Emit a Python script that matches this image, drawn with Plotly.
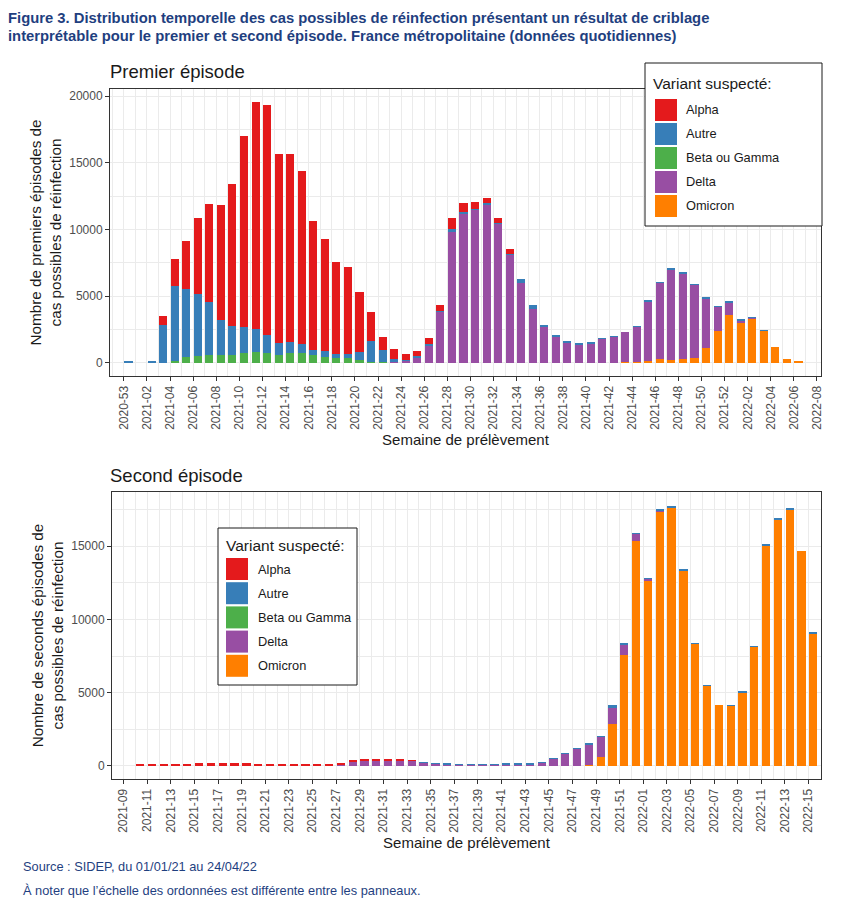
import plotly.graph_objects as go

# ---------------- DATA ----------------
top_weeks = [
    "2020-53",
    "2021-01", "2021-02", "2021-03", "2021-04", "2021-05", "2021-06", "2021-07", "2021-08", "2021-09", "2021-10",
    "2021-11", "2021-12", "2021-13", "2021-14", "2021-15", "2021-16", "2021-17", "2021-18", "2021-19", "2021-20",
    "2021-21", "2021-22", "2021-23", "2021-24", "2021-25", "2021-26", "2021-27", "2021-28", "2021-29", "2021-30",
    "2021-31", "2021-32", "2021-33", "2021-34", "2021-35", "2021-36", "2021-37", "2021-38", "2021-39", "2021-40",
    "2021-41", "2021-42", "2021-43", "2021-44", "2021-45", "2021-46", "2021-47", "2021-48", "2021-49", "2021-50",
    "2021-51", "2021-52",
    "2022-01", "2022-02", "2022-03", "2022-04", "2022-05", "2022-06", "2022-07", "2022-08",
]

top_alpha = [0, 0, 0, 725, 2050, 3625, 5675, 7325, 8575, 10625, 14325,
             17025, 17175, 14175, 14100, 12975, 9625, 8400, 6875, 6525, 4500,
             2225, 975, 775, 450, 375, 450, 450, 775, 650, 475,
             400, 425, 400, 0, 0, 0, 0, 0, 0, 0,
             0, 0, 0, 0, 0, 0, 0, 0, 0, 0,
             0, 0, 0, 0, 0, 0, 0, 0, 0, 0]
top_autre = [80, 0, 80, 2795, 5625, 5100, 4700, 3950, 2625, 2125, 1925,
             1725, 1375, 900, 825, 700, 425, 425, 325, 325, 650,
             1525, 960, 250, 100, 200, 150, 50, 250, 175, 50,
             50, 25, 25, 300, 250, 125, 75, 50, 25, 25,
             25, 25, 0, 25, 25, 50, 50, 50, 50, 50,
             25, 25, 50, 25, 25, 0, 0, 0, 0, 0]
top_betagamma = [0, 0, 0, 30, 125, 425, 500, 625, 625, 625, 750,
                 800, 750, 600, 750, 725, 575, 450, 375, 375, 200,
                 100, 40, 0, 0, 0, 0, 0, 0, 0, 0,
                 0, 0, 0, 0, 0, 0, 0, 0, 0, 0,
                 0, 0, 0, 0, 0, 0, 0, 0, 0, 0,
                 0, 0, 0, 0, 0, 0, 0, 0, 0, 0]
top_delta = [0, 0, 0, 0, 0, 0, 0, 0, 0, 0, 0,
             0, 0, 0, 0, 0, 0, 0, 0, 0, 0,
             0, 0, 50, 150, 350, 1275, 3825, 9825, 11125, 11500,
             11900, 10425, 8150, 6000, 4075, 2700, 2000, 1525, 1400, 1475,
             1800, 1950, 2200, 2625, 4475, 5725, 6825, 6450, 5450, 3700,
             1850, 925, 200, 50, 0, 0, 0, 0, 0, 0]
top_omicron = [0, 0, 0, 0, 0, 0, 0, 0, 0, 0, 0,
               0, 0, 0, 0, 0, 0, 0, 0, 0, 0,
               0, 0, 0, 0, 0, 0, 0, 0, 0, 0,
               0, 0, 0, 0, 0, 0, 0, 0, 0, 0,
               0, 0, 100, 100, 150, 275, 200, 275, 400, 1125,
               2375, 3625, 3000, 3325, 2425, 1175, 325, 100, 0, 0]

bot_weeks = [
    "2021-09", "2021-10",
    "2021-11", "2021-12", "2021-13", "2021-14", "2021-15", "2021-16", "2021-17", "2021-18", "2021-19", "2021-20",
    "2021-21", "2021-22", "2021-23", "2021-24", "2021-25", "2021-26", "2021-27", "2021-28", "2021-29", "2021-30",
    "2021-31", "2021-32", "2021-33", "2021-34", "2021-35", "2021-36", "2021-37", "2021-38", "2021-39", "2021-40",
    "2021-41", "2021-42", "2021-43", "2021-44", "2021-45", "2021-46", "2021-47", "2021-48", "2021-49", "2021-50",
    "2021-51", "2021-52",
    "2022-01", "2022-02", "2022-03", "2022-04", "2022-05", "2022-06", "2022-07", "2022-08", "2022-09", "2022-10",
    "2022-11", "2022-12", "2022-13", "2022-14", "2022-15",
]

bot_alpha = [0, 70,
             90, 90, 90, 90, 150, 150, 155, 155, 155, 75,
             90, 60, 60, 55, 70, 80, 150, 60, 50, 50,
             45, 40, 25, 0, 0, 0, 0, 0, 0, 0,
             0, 0, 0, 0, 0, 0, 0, 0, 0, 0,
             0, 0,
             0, 0, 0, 0, 0, 0, 0, 0, 0, 0,
             0, 0, 0, 0, 0]
bot_autre = [0, 0,
             45, 45, 45, 45, 30, 30, 25, 25, 25, 15,
             45, 10, 10, 15, 20, 35, 0, 0, 0, 0,
             0, 0, 0, 10, 10, 40, 10, 5, 5, 5,
             15, 35, 10, 10, 10, 10, 15, 20, 20, 160,
             100, 20,
             20, 100, 70, 70, 50, 40, 0, 40, 40, 40,
             40, 40, 40, 0, 40]
bot_betagamma = [0, 0,
                 0, 0, 0, 0, 0, 0, 0, 0, 0, 0,
                 0, 0, 0, 0, 0, 0, 0, 0, 0, 0,
                 0, 0, 0, 0, 0, 0, 0, 0, 0, 0,
                 0, 0, 0, 0, 0, 0, 0, 0, 0, 0,
                 0, 0,
                 0, 0, 0, 0, 0, 0, 0, 0, 0, 0,
                 0, 0, 0, 0, 0]
bot_delta = [0, 0,
             0, 0, 0, 0, 0, 0, 0, 0, 0, 0,
             0, 0, 0, 0, 0, 20, 55, 280, 380, 385,
             385, 390, 340, 220, 150, 95, 80, 85, 85, 85,
             120, 100, 125, 215, 490, 850, 1210, 1410, 1370, 1090,
             680, 480,
             90, 30, 0, 0, 0, 0, 0, 0, 0, 0,
             0, 0, 0, 0, 0]
bot_omicron = [0, 0,
               0, 0, 0, 0, 0, 0, 0, 0, 0, 0,
               0, 0, 0, 0, 0, 0, 0, 0, 0, 0,
               0, 0, 0, 0, 0, 0, 0, 0, 0, 0,
               0, 0, 0, 0, 0, 0, 0, 70, 610, 2880,
               7600, 15370,
               12690, 17390, 17660, 13370, 8330, 5480, 4180, 4110, 5045, 8130,
               15080, 16830, 17510, 14690, 9040]

variants = ["Alpha", "Autre", "Beta ou Gamma", "Delta", "Omicron"]
colors = {"Alpha": "#E41A1C", "Autre": "#377EB8", "Beta ou Gamma": "#4DAF4A",
          "Delta": "#984EA3", "Omicron": "#FF7F00"}
legend_title = "Variant suspecté:"

top_series = {"Alpha": top_alpha, "Autre": top_autre, "Beta ou Gamma": top_betagamma,
              "Delta": top_delta, "Omicron": top_omicron}
bot_series = {"Alpha": bot_alpha, "Autre": bot_autre, "Beta ou Gamma": bot_betagamma,
              "Delta": bot_delta, "Omicron": bot_omicron}

# ---------------- FIGURE ----------------
OFF = 8                  # page body margin in the browser
W, H = 842 - OFF, 910 - OFF
FONT = "Liberation Sans, Arial, sans-serif"
BLUE = "#1F3F7F"
GRID = "#EBEBEB"
INK = "#1A1A1A"


def px_x(p):
    return (p - OFF) / W


def px_y(p):
    return 1 - (p - OFF) / H


top_x = list(range(len(top_weeks)))
bot_x = list(range(len(bot_weeks)))

BAR_W = 0.7
BAR_SHIFT = 0.4

fig = go.Figure()
for name in reversed(variants):  # Omicron at the bottom of the stack, Alpha on top
    fig.add_trace(go.Bar(
        x=top_x, y=top_series[name], name=name, showlegend=False,
        marker=dict(color=colors[name], line=dict(width=0)),
        width=BAR_W, offset=-BAR_W / 2 + BAR_SHIFT,
        xaxis="x", yaxis="y",
        hovertemplate=name + " %{y}<extra></extra>",
    ))
for name in reversed(variants):
    fig.add_trace(go.Bar(
        x=bot_x, y=bot_series[name], name=name, showlegend=False,
        marker=dict(color=colors[name], line=dict(width=0)),
        width=BAR_W, offset=-BAR_W / 2 + BAR_SHIFT,
        xaxis="x2", yaxis="y2",
        hovertemplate=name + " %{y}<extra></extra>",
    ))

common_x = dict(
    showline=True, mirror=True, linecolor="#333333", linewidth=1,
    showgrid=True, gridcolor=GRID, gridwidth=1,
    ticks="outside", ticklen=4, tickcolor="#333333", tickwidth=1,
    tickangle=-90, tickfont=dict(family=FONT, size=12, color="#4D4D4D"),
    minor=dict(tickmode="linear", tick0=0, dtick=1, showgrid=True,
               gridcolor=GRID, gridwidth=0.7, ticks=""),
    zeroline=False, automargin=False,
    title=dict(text="Semaine de prélèvement", font=dict(family=FONT, size=15, color=INK),
               standoff=5),
)
common_y = dict(
    showline=True, mirror=True, linecolor="#333333", linewidth=1,
    showgrid=True, gridcolor=GRID, gridwidth=1,
    ticks="outside", ticklen=4, tickcolor="#333333", tickwidth=1,
    tickfont=dict(family=FONT, size=12, color="#4D4D4D"),
    tickmode="linear", tick0=0, dtick=5000, tickformat="d",
    minor=dict(tickmode="linear", tick0=0, dtick=2500, showgrid=True,
               gridcolor=GRID, gridwidth=0.6, ticks=""),
    zeroline=False, automargin=False,
)

fig.update_layout(
    width=W, height=H,
    margin=dict(l=0, r=0, t=0, b=0),
    paper_bgcolor="white", plot_bgcolor="white",
    barmode="stack", bargap=0,
    font=dict(family=FONT, color=INK),
    showlegend=False,
    xaxis=dict(common_x, domain=[px_x(110), px_x(821)], anchor="y",
               range=[-1.2, 60.35],
               tickmode="array", tickvals=top_x[::2], ticktext=top_weeks[::2]),
    yaxis=dict(common_y, domain=[px_y(376), px_y(89)], anchor="x",
               range=[-980, 20530],
               title=dict(text="Nombre de premiers épisodes de<br>cas possibles de réinfection",
                          font=dict(family=FONT, size=15.3, color=INK), standoff=3)),
    xaxis2=dict(common_x, domain=[px_x(112), px_x(821)], anchor="y2",
                range=[-0.98, 59.05],
                tickmode="array", tickvals=bot_x[::2], ticktext=bot_weeks[::2]),
    yaxis2=dict(common_y, domain=[px_y(779), px_y(492)], anchor="x2",
                range=[-890, 18700],
                title=dict(text="Nombre de seconds épisodes de<br>cas possibles de réinfection",
                           font=dict(family=FONT, size=15.3, color=INK), standoff=3)),
)

annotations = [
    dict(text="<b>Figure 3. Distribution temporelle des cas possibles de réinfection présentant un résultat de criblage</b>",
         x=px_x(6), y=px_y(18), xanchor="left", yanchor="middle",
         font=dict(family=FONT, size=14.8, color=BLUE)),
    dict(text="<b>interprétable pour le premier et second épisode. France métropolitaine (données quotidiennes)</b>",
         x=px_x(6), y=px_y(36), xanchor="left", yanchor="middle",
         font=dict(family=FONT, size=14.8, color=BLUE)),
    dict(text="Premier épisode", x=px_x(108), y=px_y(72), xanchor="left", yanchor="middle",
         font=dict(family=FONT, size=18.5, color=INK)),
    dict(text="Second épisode", x=px_x(108), y=px_y(476), xanchor="left", yanchor="middle",
         font=dict(family=FONT, size=18.5, color=INK)),
    dict(text="Source : SIDEP, du 01/01/21 au 24/04/22", x=px_x(21), y=px_y(866),
         xanchor="left", yanchor="middle", font=dict(family=FONT, size=12.8, color=BLUE)),
    dict(text="À noter que l’échelle des ordonnées est différente entre les panneaux.", x=px_x(21), y=px_y(890),
         xanchor="left", yanchor="middle", font=dict(family=FONT, size=12.8, color=BLUE)),
]
shapes = []

# legend boxes: (frame left, top, right, bottom), title pos, key left, key size, first key centre, step, label x
legend_boxes = [
    dict(frame=(645, 63, 822, 226), title=(653, 84), key_x=655, key=22, y0=110, step=24, label_x=686),
    dict(frame=(218, 528, 357, 685), title=(226, 545), key_x=226, key=22, y0=569, step=24.2, label_x=258),
]
for lb in legend_boxes:
    x0, y0, x1, y1 = lb["frame"]
    shapes.append(dict(type="rect", xref="paper", yref="paper", layer="above",
                       x0=px_x(x0), x1=px_x(x1), y0=px_y(y1), y1=px_y(y0),
                       fillcolor="white", line=dict(color=INK, width=1)))
    annotations.append(dict(text=legend_title, x=px_x(lb["title"][0] - 2), y=px_y(lb["title"][1]),
                            xanchor="left", yanchor="middle",
                            font=dict(family=FONT, size=15.5, color=INK)))
    for k, name in enumerate(variants):
        cy = lb["y0"] + k * lb["step"]
        shapes.append(dict(type="rect", xref="paper", yref="paper", layer="above",
                           x0=px_x(lb["key_x"]), x1=px_x(lb["key_x"] + lb["key"]),
                           y0=px_y(cy + lb["key"] / 2), y1=px_y(cy - lb["key"] / 2),
                           fillcolor=colors[name], line=dict(width=0)))
        annotations.append(dict(text=name, x=px_x(lb["label_x"] - 2), y=px_y(cy),
                                xanchor="left", yanchor="middle",
                                font=dict(family=FONT, size=12.8, color=INK)))

for a in annotations:
    a.update(xref="paper", yref="paper", showarrow=False)
fig.update_layout(annotations=annotations, shapes=shapes)

fig.write_html("out.html")
